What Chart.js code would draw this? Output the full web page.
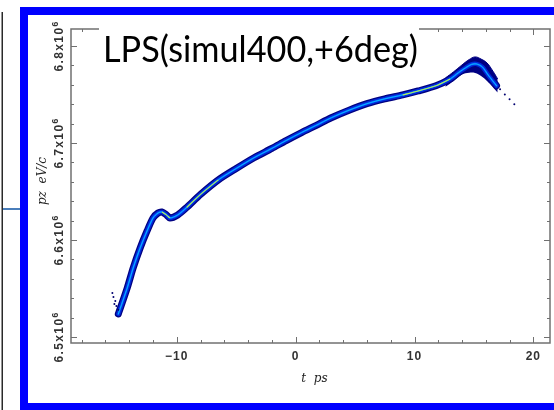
<!DOCTYPE html>
<html>
<head>
<meta charset="utf-8">
<script src="https://cdn.jsdelivr.net/npm/chart.js@4.4.0/dist/chart.umd.min.js"></script>
<style>
  html, body { margin: 0; padding: 0; background: #fff; }
  canvas { display: block; }
</style>
</head>
<body>
<canvas id="lps" width="554" height="410"></canvas>
<script>
// centre of the phase-space band (t in ps, pz in eV/c)
const tPs = [-14.92, -14.17, -13.67, -13.08, -12.5, -12.0, -11.58, -11.25, -10.9, -10.58, -9.92, -9.17, -8.0, -6.5, -5.0, -3.5, -2.0, -0.8, 0.5, 1.7, 3.0, 4.5, 6.0, 7.5, 9.0, 10.3, 11.8, 13.0, 13.7, 14.3, 14.8, 15.2, 15.7, 16.2, 16.9];
const pzCentre = [6.5237e6, 6.5505e6, 6.5711e6, 6.5918e6, 6.6093e6, 6.6227e6, 6.6278e6, 6.6289e6, 6.6262e6, 6.6227e6, 6.6258e6, 6.6335e6, 6.6470e6, 6.6620e6, 6.6737e6, 6.6848e6, 6.6944e6, 6.7025e6, 6.7108e6, 6.7180e6, 6.7260e6, 6.7338e6, 6.7405e6, 6.7455e6, 6.7495e6, 6.7536e6, 6.7590e6, 6.7660e6, 6.7725e6, 6.7775e6, 6.7810e6, 6.7815e6, 6.7785e6, 6.7700e6, 6.7590e6];

// dense blob around the peak
const tPeak = [12.6, 13.3, 14.0, 14.6, 15.1, 15.6, 16.1, 16.6, 17.0];
const pzPeakUpper = [6.7670e6, 6.7735e6, 6.7805e6, 6.7860e6, 6.7887e6, 6.7865e6, 6.7825e6, 6.7740e6, 6.7660e6];
const pzPeakLower = [6.7580e6, 6.7640e6, 6.7705e6, 6.7725e6, 6.7722e6, 6.7690e6, 6.7640e6, 6.7575e6, 6.7520e6];

// stray particles at the head and the tail
const tStray = [-15.42, -15.33, -15.25, -15.17, -15.08, -14.92, 17.2, 17.6, 18.0, 18.4];
const pzStray = [6.5454e6, 6.5412e6, 6.5340e6, 6.5370e6, 6.5320e6, 6.5280e6, 6.7555e6, 6.7500e6, 6.7450e6, 6.7400e6];

// where the core of the band turns green/yellow
const greenRanges = [[-11.4, -10.2], [-9.6, -5.5], [8.0, 13.3]];

// axes
const xMin = -18.9, xMax = 21.4;
const yMin = 6.4938e6, yMax = 6.8175e6;
const xTickLabels = [-10, 0, 10, 20];
const yTickLabels = [6.5e6, 6.6e6, 6.7e6, 6.8e6];
const xMinorStep = 2;
const yMinorStep = 20000;
const titleText = 'LPS(simul400,+6deg)';

const pts = (xs, ys) => xs.map((x, i) => ({x: x, y: ys[i]}));
const greenCore = tPs.map((t, i) => ({
    x: t,
    y: greenRanges.some(r => t >= r[0] && t <= r[1]) ? pzCentre[i] : null
}));

function band(color, width, order) {
    return {
        data: pts(tPs, pzCentre),
        borderColor: color,
        borderWidth: width,
        borderCapStyle: 'round',
        borderJoinStyle: 'round',
        pointRadius: 0,
        tension: 0.25,
        fill: false,
        order: order
    };
}

const decor = {
    id: 'decor',
    afterDraw(chart) {
        const ctx = chart.ctx;
        const {left, right, top, bottom} = chart.chartArea;
        const xs = chart.scales.x, ys = chart.scales.y;
        ctx.save();

        // axes box
        ctx.strokeStyle = '#707070';
        ctx.lineWidth = 1.5;
        ctx.strokeRect(left, top, right - left, bottom - top);

        // inward ticks
        ctx.lineWidth = 1;
        ctx.beginPath();
        for (let v = -18; v <= xMax; v += xMinorStep) {
            const px = Math.round(xs.getPixelForValue(v)) + 0.5;
            const len = v % 10 === 0 ? 6 : 3;
            ctx.moveTo(px, bottom); ctx.lineTo(px, bottom - len);
            ctx.moveTo(px, top); ctx.lineTo(px, top + len);
        }
        for (let v = 6.5e6; v <= yMax; v += yMinorStep) {
            const py = Math.round(ys.getPixelForValue(v)) + 0.5;
            const len = v % 100000 === 0 ? 6 : 3;
            ctx.moveTo(left, py); ctx.lineTo(left + len, py);
            ctx.moveTo(right, py); ctx.lineTo(right - len, py);
        }
        ctx.stroke();

        // x tick labels
        ctx.fillStyle = '#333';
        ctx.font = 'bold 12px "Liberation Sans", Arial, sans-serif';
        ctx.letterSpacing = '1px';
        ctx.textAlign = 'center';
        ctx.textBaseline = 'alphabetic';
        xTickLabels.forEach(v => {
            const s = v < 0 ? '\u2212' + Math.abs(v) : String(v);
            ctx.fillText(s, xs.getPixelForValue(v), 360);
        });

        // y tick labels, rotated, with power of ten
        ctx.letterSpacing = '1.4px';
        yTickLabels.forEach(v => {
            const py = ys.getPixelForValue(v);
            const mant = (v / 1e6).toFixed(1) + 'x10';
            ctx.save();
            ctx.translate(63, py);
            ctx.rotate(-Math.PI / 2);
            ctx.textAlign = 'left';
            ctx.font = 'bold 12px "Liberation Sans", Arial, sans-serif';
            const w1 = ctx.measureText(mant).width;
            ctx.font = 'bold 8.5px "Liberation Sans", Arial, sans-serif';
            const w2 = ctx.measureText('6').width;
            const start = -(w1 + w2) / 2;
            ctx.font = 'bold 12px "Liberation Sans", Arial, sans-serif';
            ctx.fillText(mant, start, 0);
            ctx.font = 'bold 8.5px "Liberation Sans", Arial, sans-serif';
            ctx.fillText('6', start + w1, -5.5);
            ctx.restore();
        });
        ctx.letterSpacing = '0px';

        // axis titles
        ctx.font = 'italic 12px "DejaVu Serif", serif';
        ctx.textAlign = 'center';
        ctx.fillStyle = '#222';
        ctx.fillText('t  ps', 314.5, 382);
        ctx.save();
        ctx.translate(46, 181);
        ctx.rotate(-Math.PI / 2);
        ctx.fillText('pz  eV/c', 0, 0);
        ctx.restore();

        // title with white box over the top axis
        ctx.fillStyle = '#fff';
        ctx.fillRect(99, 16, 320, 26);
        ctx.font = '37px Lato, "Open Sans", sans-serif';
        ctx.textAlign = 'left';
        const tw = ctx.measureText(titleText).width;
        ctx.save();
        ctx.translate(103, 62);
        ctx.scale(315 / tw, 1);
        ctx.fillStyle = '#000';
        ctx.fillText(titleText, 0, 0);
        ctx.restore();

        // slide frame
        ctx.strokeStyle = '#0000ff';
        ctx.lineWidth = 8;
        ctx.strokeRect(24, 11, 600, 396);

        // black rule and connector at the left edge
        ctx.fillStyle = '#2a2a2a';
        ctx.fillRect(1.5, 12, 1.5, 398);
        ctx.strokeStyle = '#4a7ebb';
        ctx.lineWidth = 2;
        ctx.beginPath();
        ctx.moveTo(3, 209); ctx.lineTo(20, 209);
        ctx.stroke();

        ctx.restore();
    }
};

new Chart(document.getElementById('lps'), {
    type: 'line',
    data: {
        datasets: [
            band('#000080', 7, 10),
            {
                data: pts(tPeak, pzPeakLower),
                borderWidth: 0,
                pointRadius: 0,
                tension: 0.4,
                fill: false,
                order: 9
            },
            {
                data: pts(tPeak, pzPeakUpper),
                borderColor: '#000082',
                backgroundColor: '#000082',
                borderWidth: 1,
                pointRadius: 0,
                tension: 0.4,
                fill: 1,
                order: 8
            },
            band('#0028d8', 4.5, 7),
            band('#0a5cff', 1.8, 6),
            band('#00d0ff', 0.8, 5),
            {
                data: greenCore,
                borderColor: '#b8f050',
                borderWidth: 1.1,
                pointRadius: 0,
                tension: 0.25,
                spanGaps: false,
                fill: false,
                order: 4
            },
            {
                data: pts(tStray, pzStray),
                showLine: false,
                pointRadius: 1,
                pointBorderWidth: 0,
                pointBackgroundColor: '#000070',
                order: 3
            }
        ]
    },
    options: {
        responsive: false,
        animation: false,
        devicePixelRatio: 1,
        layout: {padding: {top: 29, right: 1, left: 0, bottom: 0}},
        plugins: {legend: {display: false}, tooltip: {enabled: false}},
        scales: {
            x: {
                type: 'linear', min: xMin, max: xMax,
                ticks: {display: false},
                grid: {display: false},
                border: {display: false},
                afterFit: s => { s.height = 67; }
            },
            y: {
                type: 'linear', min: yMin, max: yMax,
                ticks: {display: false},
                grid: {display: false},
                border: {display: false},
                afterFit: s => { s.width = 71; }
            }
        }
    },
    plugins: [decor]
});
</script>
</body>
</html>
